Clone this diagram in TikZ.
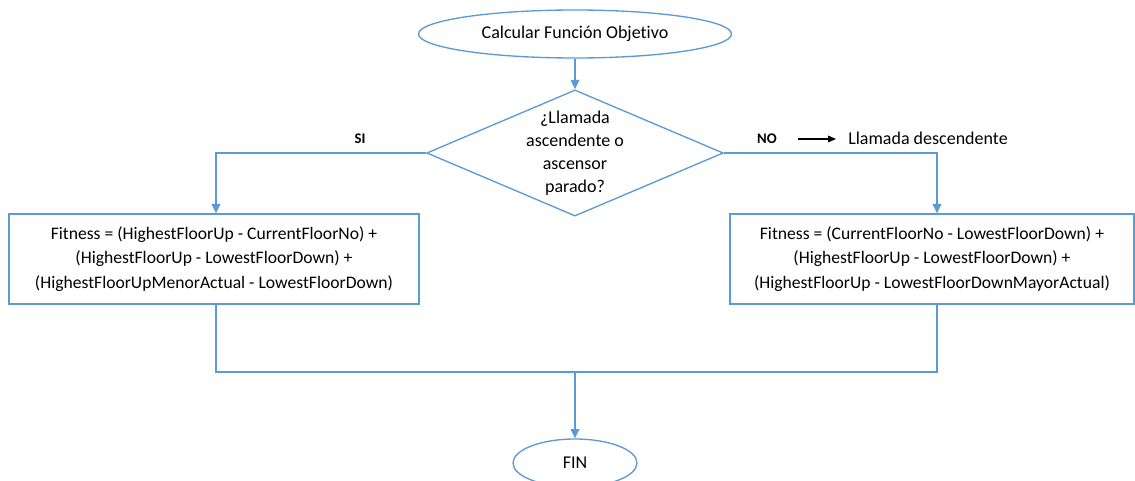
\documentclass[tikz,border=0pt]{standalone}
\usepackage{fontspec}
\setmainfont{Carlito}[RawFeature=-liga]
\usetikzlibrary{shapes.geometric,arrows.meta}
\definecolor{obl}{HTML}{5B9BD5}
\tikzset{
  flow/.style={draw=obl, line width=1pt},
  arr/.style={flow, -{Triangle[width=6.5pt,length=7pt]}},
  term/.style={ellipse, draw=obl, line width=1pt, fill=white, inner sep=0pt, font=\fontsize{13.5}{16}\selectfont},
  dec/.style={diamond, aspect=2.35, draw=obl, line width=1pt, fill=white, inner sep=0pt, minimum width=222pt, minimum height=94.5pt, align=center, font=\fontsize{13.5}{17.3}\selectfont},
  proc/.style={rectangle, draw=obl, line width=1pt, fill=white, inner sep=0pt, minimum height=67.5pt, align=center, font=\fontsize{13.2}{18.6}\selectfont},
  lbl/.style={font=\fontsize{11}{13}\selectfont\bfseries, inner sep=0pt},
  txt/.style={font=\fontsize{13.5}{16}\selectfont, inner sep=0pt}
}
\begin{document}
\begin{tikzpicture}[x=0.75pt,y=-0.75pt]
\useasboundingbox (0,0) rectangle (1135,481);
\node[term, minimum width=234.75pt, minimum height=36pt] (start) at (575,34) {Calcular Función Objetivo};
\node[dec] (dia) at (575,153) {¿Llamada\\ascendente o\\ascensor\\parado?};
\node[proc, minimum width=307.5pt] (left) at (214,259) {Fitness = (HighestFloorUp - CurrentFloorNo) +\\(HighestFloorUp - LowestFloorDown) +\\(HighestFloorUpMenorActual - LowestFloorDown)};
\node[proc, minimum width=303pt] (right) at (932,259) {Fitness = (CurrentFloorNo - LowestFloorDown) +\\(HighestFloorUp - LowestFloorDown) +\\(HighestFloorUp - LowestFloorDownMayorActual)};
\node[term, minimum width=93pt, minimum height=36pt] (fin) at (575,463) {FIN};
\node[lbl] (si) at (360,139) {SI};
\node[lbl] (no) at (767,139) {NO};
\node[txt, anchor=west] (desc) at (848,138) {Llamada descendente};
\coordinate (noa) at (798,139);
\coordinate (lc) at (216,153);
\coordinate (rc) at (937,153);
\coordinate (lb) at (216,372);
\coordinate (mb) at (575,372);
\coordinate (rb) at (937,372);
\draw[arr] (start) -- (dia);
\draw[arr] (dia.west) -- (lc) -- (lc |- left.north);
\draw[arr] (dia.east) -- (rc) -- (rc |- right.north);
\draw[flow] (lc |- left.south) -- (lb) -- (rb) -- (rc |- right.south);
\draw[arr] (mb) -- (fin.north);
\draw[line width=0.8pt, -{Triangle[width=5pt,length=6pt]}] (noa) -- ([xshift=-9pt]desc.west |- noa);
\end{tikzpicture}
\end{document}
